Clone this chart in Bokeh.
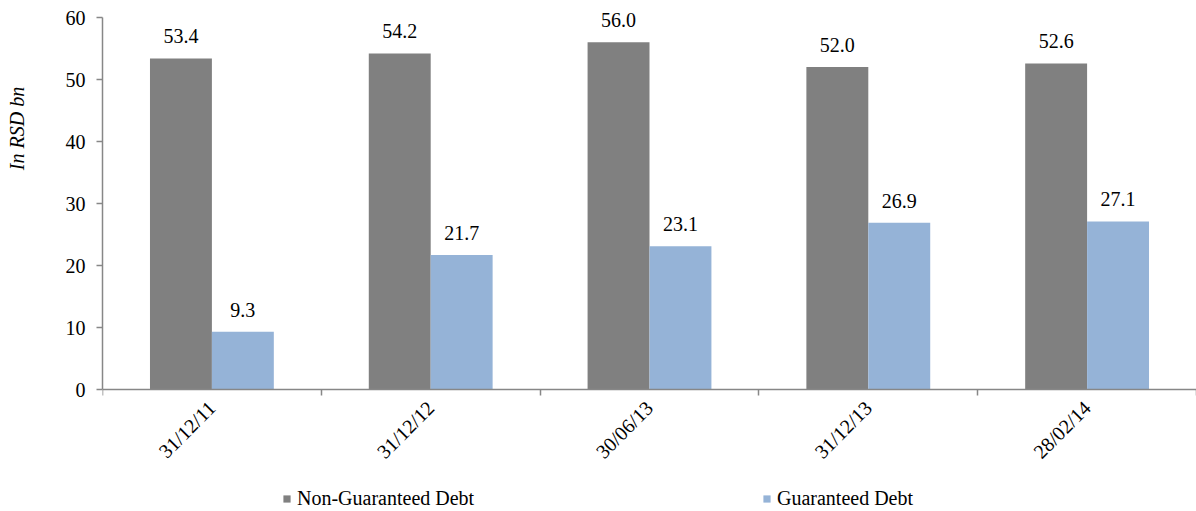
import math
from bokeh.plotting import figure
from bokeh.models import (ColumnDataSource, Range1d, FixedTicker, Legend, LegendItem)
from bokeh.core.properties import value
from bokeh.embed import file_html
from bokeh.resources import INLINE

# ---- data ----
dates = ["31/12/11", "31/12/12", "30/06/13", "31/12/13", "28/02/14"]
non_guaranteed = [53.4, 54.2, 56.0, 52.0, 52.6]
guaranteed = [9.3, 21.7, 23.1, 26.9, 27.1]
y_ticks = [0, 10, 20, 30, 40, 50, 60]
series_names = ["Non-Guaranteed Debt", "Guaranteed Debt"]
y_title = "In RSD bn"

FONT = "Liberation Serif"
FS = "20px"
GRAY = "#808080"
BLUE = "#95B3D7"
AXIS = "#878787"
BW = 0.566  # bar width in x units (category bin = 2 units)

# layout: value axis spans 17px..389px; the frame covers the whole figure height
W, H = 1196, 511
TOP, ZERO_PX = 17, 389
ymax = y_ticks[-1]
per_px = ymax / (ZERO_PX - TOP)
y_lo = -(H - ZERO_PX) * per_px
y_hi = ymax + TOP * per_px

centers = [2 * i + 1 for i in range(len(dates))]
src_ng = ColumnDataSource(dict(
    x=[c - BW / 2 for c in centers], top=non_guaranteed,
    lab=[f"{v:.1f}" for v in non_guaranteed]))
src_g = ColumnDataSource(dict(
    x=[c + BW / 2 for c in centers], top=guaranteed,
    lab=[f"{v:.1f}" for v in guaranteed]))

p = figure(width=W, height=H, output_backend="svg", toolbar_location=None,
           x_range=Range1d(0, 2 * len(dates)), y_range=Range1d(y_lo, y_hi),
           min_border_left=102, min_border_right=0, min_border_top=0, min_border_bottom=0)
p.outline_line_color = None
p.xgrid.visible = False
p.ygrid.visible = False
p.background_fill_color = "white"

r_ng = p.vbar(x="x", top="top", width=BW, bottom=0, source=src_ng,
              fill_color=GRAY, line_color=None)
r_g = p.vbar(x="x", top="top", width=BW, bottom=0, source=src_g,
             fill_color=BLUE, line_color=None)

for src in (src_ng, src_g):
    p.text(x="x", y="top", text="lab", source=src, text_align="center",
           text_baseline="alphabetic", y_offset=-22,
           text_font=value(FONT), text_font_size=FS, text_color="black")

# x axis (drawn at y = 0)
xa = p.xaxis[0]
xa.fixed_location = 0
xa.ticker = FixedTicker(ticks=centers, minor_ticks=list(range(0, 2 * len(dates) + 1, 2)))
xa.major_label_overrides = {c: d for c, d in zip(centers, dates)}
xa.major_tick_out = 0
xa.major_tick_in = 0
xa.minor_tick_out = 6
xa.minor_tick_in = 0
xa.minor_tick_line_color = AXIS
xa.minor_tick_line_width = 1.5
xa.axis_line_color = AXIS
xa.axis_line_width = 1.5
xa.major_label_orientation = math.pi / 4
xa.major_label_standoff = 9
xa.major_label_text_font = FONT
xa.major_label_text_font_size = FS
xa.major_label_text_color = "black"

# y axis (line limited to 0..60)
ya = p.yaxis[0]
ya.bounds = (0, ymax)
ya.ticker = FixedTicker(ticks=y_ticks, minor_ticks=[])
ya.major_tick_out = 6
ya.major_tick_in = 0
ya.minor_tick_out = 0
ya.minor_tick_in = 0
ya.major_tick_line_color = AXIS
ya.major_tick_line_width = 1.5
ya.axis_line_color = AXIS
ya.axis_line_width = 1.5
ya.major_label_standoff = 11
ya.major_label_text_font = FONT
ya.major_label_text_font_size = FS
ya.major_label_text_color = "black"
ya.axis_label = "\u00a0" * 51 + y_title
ya.axis_label_standoff = 35
ya.axis_label_text_font = FONT
ya.axis_label_text_font_size = FS
ya.axis_label_text_font_style = "italic"
ya.axis_label_text_color = "black"

legend = Legend(items=[LegendItem(label=series_names[0], renderers=[r_ng]),
                       LegendItem(label=series_names[1], renderers=[r_g])],
                orientation="horizontal", location=(180, 1),
                glyph_width=9, glyph_height=9, label_standoff=6, spacing=226, label_width=239,
                padding=0, margin=0, border_line_color=None, background_fill_alpha=0,
                label_text_font=FONT, label_text_font_size=FS, label_text_color="black")
p.add_layout(legend, "center")

open("out.html", "w").write(file_html(p, INLINE))
